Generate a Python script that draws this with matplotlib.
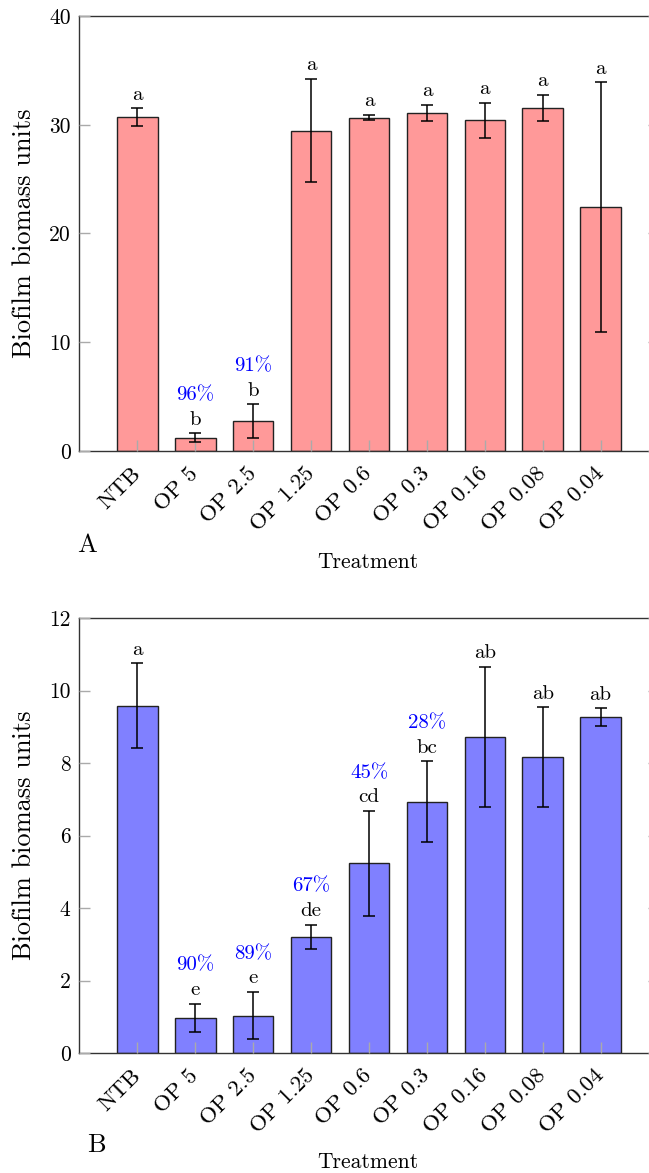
import matplotlib
matplotlib.use("Agg")
import matplotlib.pyplot as plt
import numpy as np

plt.rcParams['font.family'] = ['cmr10', 'DejaVu Serif']
plt.rcParams['mathtext.fontset'] = 'cm'
plt.rcParams['axes.formatter.use_mathtext'] = True

categories = ["NTB", "OP 5", "OP 2.5", "OP 1.25", "OP 0.6", "OP 0.3", "OP 0.16", "OP 0.08", "OP 0.04"]

a_means = [30.7, 1.22, 2.76, 29.47, 30.66, 31.1, 30.4, 31.55, 22.4]
a_errs = [0.8, 0.4, 1.55, 4.75, 0.25, 0.75, 1.6, 1.2, 11.5]
a_letters = ["a", "b", "b", "a", "a", "a", "a", "a", "a"]
a_pct = ["", "96%", "91%", "", "", "", "", "", ""]
a_yticks = [0, 10, 20, 30, 40]

b_means = [9.58, 0.97, 1.03, 3.2, 5.23, 6.93, 8.72, 8.16, 9.27]
b_errs = [1.17, 0.39, 0.65, 0.34, 1.45, 1.12, 1.94, 1.38, 0.24]
b_letters = ["a", "e", "e", "de", "cd", "bc", "ab", "ab", "ab"]
b_pct = ["", "90%", "89%", "67%", "45%", "28%", "", "", ""]
b_yticks = [0, 2, 4, 6, 8, 10, 12]

W, H = 649, 1173
fig = plt.figure(figsize=(W / 100, H / 100), dpi=100)

def px_axes(left, top, right, bottom):
    return fig.add_axes([left / W, 1 - bottom / H, (right - left) / W, (bottom - top) / H])

FS = 15

def panel(ax, means, errs, letters, pcts, yticks, color, tag, tagx, tagy, treaty):
    x = np.arange(len(categories))
    ax.bar(x, means, width=0.7, color=color, edgecolor='#222222', linewidth=1.0, zorder=1)
    ax.errorbar(x, means, yerr=errs, fmt='none', ecolor='black', elinewidth=1.1,
                capsize=4, capthick=1.1, zorder=3)
    for xi, m, e, l, p in zip(x, means, errs, letters, pcts):
        ax.annotate(l, xy=(xi, m + e), xytext=(0, 6.2), textcoords='offset points',
                    ha='center', va='baseline', fontsize=FS, color='black')
        if p:
            ax.annotate(p, xy=(xi, m + e), xytext=(0, 23.8), textcoords='offset points',
                        ha='center', va='baseline', fontsize=FS, color='blue')
    ax.set_xlim(-1.01, 9.01)
    ax.set_ylim(yticks[0], yticks[-1])
    ax.set_yticks(yticks)
    ax.set_yticklabels([str(t) for t in yticks], fontsize=15.5)
    ax.set_xticks(x)
    ax.set_xticklabels(categories, rotation=45, ha='right', va='center',
                       rotation_mode='anchor', fontsize=16.5)
    ax.tick_params(axis='both', direction='in', length=8, width=1.0, color='#aaaaaa')
    ax.tick_params(axis='y', right=True, pad=6)
    ax.tick_params(axis='x', pad=14)
    ax.set_axisbelow(False)
    for s in ax.spines.values():
        s.set_linewidth(1.0)
        s.set_color('#333333')
    ax.set_ylabel("Biofilm biomass units", fontsize=19, va='center')
    ax.yaxis.set_label_coords(-0.0948, 0.5)
    fig.text(tagx / W, 1 - tagy / H, tag, fontsize=19, ha='center', va='center')
    fig.text(368 / W, 1 - treaty / H, "Treatment", fontsize=15.5, ha='center', va='center')

axA = px_axes(79, 16, 659, 451)
panel(axA, a_means, a_errs, a_letters, a_pct, a_yticks, '#FF9999', 'A', 87, 545, 562)

axB = px_axes(79, 618, 659, 1053)
panel(axB, b_means, b_errs, b_letters, b_pct, b_yticks, '#8080FF', 'B', 96, 1145, 1162)

fig.savefig("out.png", dpi=100)
